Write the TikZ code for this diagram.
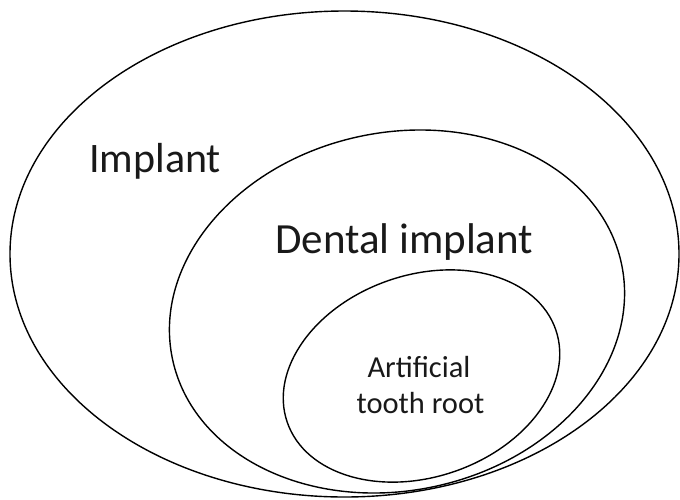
\documentclass[tikz,border=0pt]{standalone}
\usepackage{fontspec}
\setmainfont{Carlito}
\usetikzlibrary{shapes.geometric}
\begin{document}
\begin{tikzpicture}[x=1pt,y=-1pt,
  ring/.style={draw=black, line width=1.4pt, ellipse, inner sep=0pt, outer sep=0pt},
  lbl/.style={text=black!90, inner sep=0pt, anchor=base west},
  lblc/.style={text=black!90, inner sep=0pt, anchor=base}]
\useasboundingbox (0,0) rectangle (680,499);
\node[ring, minimum width=669pt, minimum height=486pt] (outer) at (344.5,254) {};
\node[ring, minimum width=459pt, minimum height=358pt, rotate=12] (middle) at (397,311.5) {};
\node[ring, minimum width=284pt, minimum height=202pt, rotate=19] (inner) at (421.5,376) {};
\node[lbl, font=\fontsize{42}{50}\selectfont] (t1) at (89,172) {Implant};
\node[lbl, font=\fontsize{43}{50}\selectfont] (t2) at (275,253) {Dental implant};
\node[lblc, font=\fontsize{30.5}{36}\selectfont] (t3) at (419,377) {Artificial};
\node[lblc, font=\fontsize{30.5}{36}\selectfont] (t4) at (420.5,413) {tooth root};
\end{tikzpicture}
\end{document}
